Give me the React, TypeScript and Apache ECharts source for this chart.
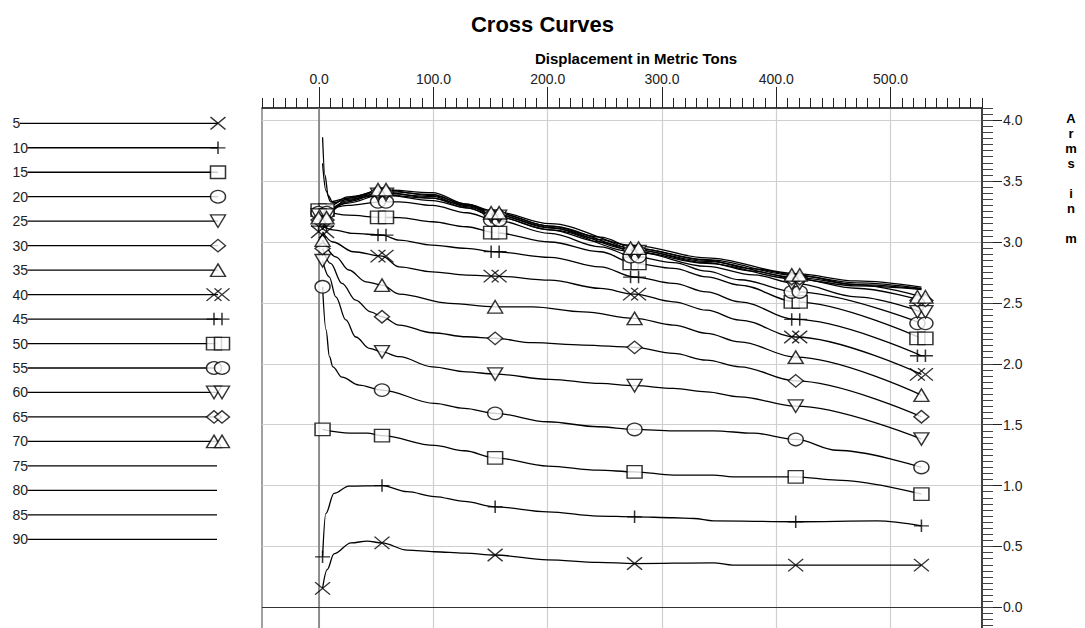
import React, { useEffect, useRef } from 'react';
import * as echarts from 'echarts';

const chartTitle = 'Cross Curves';
const displacementTitle = 'Displacement in Metric Tons';
const armsTitle = 'Arms in m';

const heelAngles = [5, 10, 15, 20, 25, 30, 35, 40, 45, 50, 55, 60, 65, 70, 75, 80, 85, 90];
const markerDisplacements = [3, 55, 154, 276, 417, 527];
const xTickValues = [0, 100, 200, 300, 400, 500];
const yTickValues = [0, 0.5, 1, 1.5, 2, 2.5, 3, 3.5, 4];

// KN values at the marked displacements
const kn5 = [0.156, 0.53, 0.43, 0.36, 0.347, 0.347];
const kn10 = [0.415, 1.0, 0.826, 0.744, 0.703, 0.67];
const kn15 = [1.461, 1.41, 1.228, 1.113, 1.072, 0.93];
const kn20 = [2.632, 1.784, 1.593, 1.461, 1.379, 1.149];
const kn25 = [2.846, 2.098, 1.915, 1.82, 1.652, 1.382];
const kn30 = [2.947, 2.386, 2.209, 2.135, 1.86, 1.565];
const kn35 = [3.016, 2.646, 2.468, 2.373, 2.055, 1.743];
const kn40 = [3.084, 2.884, 2.72, 2.572, 2.22, 1.913];
const kn45 = [3.13, 3.057, 2.92, 2.712, 2.364, 2.066];
const kn50 = [3.262, 3.202, 3.076, 2.824, 2.509, 2.209];
const kn55 = [3.24, 3.33, 3.18, 2.88, 2.59, 2.332];
const kn60 = [3.22, 3.39, 3.21, 2.92, 2.66, 2.427];
const kn65 = [3.18, 3.41, 3.225, 2.935, 2.7, 2.52];
const kn70 = [3.2, 3.43, 3.24, 2.95, 2.73, 2.55];

// additional points along each curve (displacement, KN)
const curve5 = [[7, 0.31], [13, 0.44], [28, 0.53], [42, 0.544], [77, 0.47], [101, 0.457], [127, 0.446], [200, 0.39], [244, 0.37], [345, 0.366], [362, 0.347]];
const curve10 = [[5.8, 0.77], [13, 0.936], [26, 0.996], [77, 0.95], [101, 0.91], [127, 0.87], [200, 0.785], [244, 0.75], [310, 0.736], [328, 0.73], [345, 0.711], [488, 0.71]];
const curve15 = [[27, 1.43], [42, 1.43], [101, 1.33], [127, 1.286], [200, 1.16], [244, 1.127], [310, 1.086], [345, 1.086], [362, 1.072], [453, 1.045]];
const curve20 = [[6, 2.28], [9, 2.06], [12, 1.975], [20, 1.89], [35, 1.825], [101, 1.675], [127, 1.634], [200, 1.524], [244, 1.483], [310, 1.45], [345, 1.45], [380, 1.43], [453, 1.29]];
const curve25 = [[8.8, 2.714], [14.6, 2.55], [23.4, 2.36], [32, 2.22], [44, 2.126], [70, 2.058], [99, 1.975], [129, 1.934], [202, 1.872], [246, 1.839], [310, 1.798], [339, 1.77], [368, 1.729]];
const curve30 = [[10, 2.824], [20, 2.66], [32, 2.523], [45, 2.427], [70, 2.318], [99, 2.255], [129, 2.222], [187, 2.173], [231, 2.154], [310, 2.085], [339, 2.03], [368, 1.975]];
const curve35 = [[14.6, 2.878], [26, 2.77], [41, 2.673], [70, 2.572], [114, 2.496], [187, 2.468], [231, 2.427], [310, 2.318], [339, 2.25], [368, 2.18]];
const curve40 = [[12, 3.0], [30, 2.92], [70, 2.796], [99, 2.755], [129, 2.728], [202, 2.687], [246, 2.619], [310, 2.509], [339, 2.44], [368, 2.359]];
const curve45 = [[12, 3.1], [30, 3.07], [70, 3.016], [99, 2.975], [129, 2.947], [202, 2.874], [246, 2.796], [310, 2.66], [339, 2.59], [368, 2.509]];
const curve50 = [[25, 3.22], [70, 3.2], [99, 3.166], [129, 3.125], [202, 3.0], [246, 2.92], [310, 2.783], [339, 2.714], [368, 2.646]];
const curve55 = [[25, 3.3], [70, 3.33], [99, 3.3], [129, 3.24], [202, 3.07], [246, 2.96], [310, 2.83], [339, 2.76], [368, 2.69]];
const curve60 = [[25, 3.32], [99, 3.34], [129, 3.28], [202, 3.1], [246, 3.0], [339, 2.8], [380, 2.73], [470, 2.55]];
const curve65 = [[25, 3.33], [99, 3.36], [129, 3.3], [202, 3.12], [246, 3.02], [339, 2.83], [380, 2.76], [470, 2.62]];
const curve70 = [[25, 3.34], [99, 3.38], [129, 3.31], [202, 3.13], [246, 3.04], [339, 2.85], [380, 2.78], [470, 2.65]];
const curve75 = [[3, 3.1], [10, 3.25], [25, 3.36], [55, 3.43], [99, 3.405], [129, 3.31], [154, 3.25], [202, 3.15], [276, 2.97], [339, 2.87], [417, 2.74], [470, 2.68], [527, 2.63]];
const curve80 = [[3, 3.28], [10, 3.3], [25, 3.37], [55, 3.415], [99, 3.39], [129, 3.3], [154, 3.24], [202, 3.13], [276, 2.95], [339, 2.855], [417, 2.725], [470, 2.665], [527, 2.62]];
const curve85 = [[3, 3.645], [6, 3.42], [10, 3.33], [25, 3.36], [55, 3.4], [99, 3.375], [129, 3.29], [154, 3.225], [202, 3.115], [276, 2.935], [339, 2.84], [417, 2.71], [470, 2.65], [527, 2.615]];
const curve90 = [[3, 3.86], [5, 3.55], [8, 3.38], [12, 3.32], [25, 3.35], [55, 3.385], [99, 3.36], [129, 3.28], [154, 3.21], [202, 3.1], [276, 2.92], [339, 2.825], [417, 2.695], [470, 2.64], [527, 2.61]];

const markerSets: (number[] | null)[] = [kn5, kn10, kn15, kn20, kn25, kn30, kn35, kn40, kn45, kn50, kn55, kn60, kn65, kn70, null, null, null, null];
const curveSets: number[][][] = [curve5, curve10, curve15, curve20, curve25, curve30, curve35, curve40, curve45, curve50, curve55, curve60, curve65, curve70, curve75, curve80, curve85, curve90];

const FONT = '"Liberation Sans", Arial, Helvetica, sans-serif';
const CROSS = 'path://M0,0L10,10M10,0L0,10';
const PLUS = 'path://M5,0L5,10M0,5L10,5';
const SYM_SIZE = [15, 12.5];

function symbolFor(i: number) {
  const k = i % 7;
  switch (k) {
    case 0: return { symbol: CROSS, rotate: 0 };
    case 1: return { symbol: PLUS, rotate: 0 };
    case 2: return { symbol: 'rect', rotate: 0 };
    case 3: return { symbol: 'circle', rotate: 0 };
    case 4: return { symbol: 'triangle', rotate: 180 };
    case 5: return { symbol: 'diamond', rotate: 0 };
    default: return { symbol: 'triangle', rotate: 0 };
  }
}

function buildOption() {
  const series: any[] = [];
  const markerStyle = { color: '#fff', borderColor: '#000', borderWidth: 1.4 };

  // legend geometry (pixels in a full-size helper grid)
  const legendTop = 123.3;
  const legendStep = 24.47;
  const legendLabelX = 12.5;
  const digitW = 7.5;
  const legendMarkX = 218;

  const graphics: any[] = [];

  heelAngles.forEach((angle, i) => {
    const markers = markerSets[i];
    const pts: number[][] = curveSets[i].map((p) => [p[0], p[1]]);
    if (markers) markerDisplacements.forEach((d, j) => pts.push([d, markers[j]]));
    pts.sort((a, b) => a[0] - b[0]);

    const lineSeries: any = {
      type: 'line',
      name: String(angle),
      xAxisIndex: 0,
      yAxisIndex: 0,
      data: pts,
      symbol: 'none',
      showSymbol: false,
      smooth: 0.35,
      smoothMonotone: 'x',
      lineStyle: { color: '#000', width: 1.3 },
      z: 3,
      silent: true,
    };
    if (i === 0) {
      lineSeries.markLine = {
        silent: true,
        symbol: 'none',
        label: { show: false },
        z: 1,
        data: [
          { xAxis: 0, lineStyle: { color: '#7a7a7a', width: 1.6, type: 'solid' } },
          { yAxis: 0, lineStyle: { color: '#333', width: 1.2, type: 'solid' } },
        ],
      };
    }
    series.push(lineSeries);

    const rowY = legendTop + i * legendStep;
    const label = String(angle);
    const lineStart = legendLabelX + label.length * digitW;
    series.push({
      type: 'line',
      xAxisIndex: 2,
      yAxisIndex: 2,
      data: [[lineStart, rowY], [markers ? legendMarkX : legendMarkX - 1, rowY]],
      symbol: 'none',
      lineStyle: { color: '#000', width: 1.3 },
      silent: true,
      z: 3,
    });
    graphics.push({
      type: 'text',
      x: legendLabelX,
      y: rowY,
      style: { text: label, font: `14px ${FONT}`, fill: '#222', textVerticalAlign: 'middle', verticalAlign: 'middle' },
    });

    if (markers) {
      const sym = symbolFor(i);
      const doubled = i >= 7;
      const offsets = doubled ? [[-4, 0], [4, 0]] : [[0, 0]];
      offsets.forEach((off) => {
        series.push({
          type: 'scatter',
          xAxisIndex: 0,
          yAxisIndex: 0,
          data: markerDisplacements.map((d, j) => [d, markers[j]]),
          symbol: sym.symbol,
          symbolRotate: sym.rotate,
          symbolSize: SYM_SIZE,
          symbolOffset: off,
          itemStyle: markerStyle,
          silent: true,
          z: 4,
        });
        series.push({
          type: 'scatter',
          xAxisIndex: 2,
          yAxisIndex: 2,
          data: [[legendMarkX, rowY]],
          symbol: sym.symbol,
          symbolRotate: sym.rotate,
          symbolSize: SYM_SIZE,
          symbolOffset: off,
          itemStyle: markerStyle,
          silent: true,
          z: 4,
        });
      });
    }
  });

  graphics.push({
    type: 'text',
    x: 636,
    y: 58,
    style: { text: displacementTitle, font: `bold 15px ${FONT}`, fill: '#000', textAlign: 'center', textVerticalAlign: 'middle', align: 'center', verticalAlign: 'middle' },
  });
  // vertical, letter-per-line axis name ("Arms in m")
  armsTitle.split('').forEach((c, k) => {
    if (c === ' ') return;
    graphics.push({
      type: 'text',
      x: 1071,
      y: 118 + k * 15,
      style: {
        text: c,
        font: `bold 13px ${FONT}`,
        fill: '#000',
        textAlign: 'center',
        align: 'center',
        textVerticalAlign: 'middle',
        verticalAlign: 'middle',
      },
    });
  });

  const gridLine = { show: true, lineStyle: { color: '#cfcfcf', width: 1.2 } };

  return {
    animation: false,
    backgroundColor: '#fff',
    title: {
      text: chartTitle,
      left: 'center',
      top: 8,
      textStyle: { fontSize: 22, fontWeight: 'bold', fontFamily: FONT, color: '#000' },
    },
    grid: [
      { left: 262, top: 108, width: 720, height: 560.3, show: true, borderColor: '#444', borderWidth: 1, backgroundColor: 'transparent', outerBoundsMode: 'none', containLabel: false },
      { left: 0, top: 0, width: 1085, height: 628, show: false, outerBoundsMode: 'none', containLabel: false },
    ],
    xAxis: [
      {
        type: 'value', gridIndex: 0, position: 'top', min: -50, max: 580,
        axisLine: { show: true, onZero: false, lineStyle: { color: '#222', width: 1.5 } },
        axisTick: { show: true, customValues: xTickValues, length: 21, lineStyle: { color: '#222', width: 1 } },
        axisLabel: { show: true, customValues: xTickValues, formatter: (v: number) => v.toFixed(1), fontSize: 14, fontFamily: FONT, color: '#222', margin: 22 },
        splitLine: gridLine,
      },
      {
        type: 'value', gridIndex: 0, position: 'top', min: -50, max: 580, interval: 10,
        axisLine: { show: false, onZero: false },
        axisTick: { show: true, length: 10, lineStyle: { color: '#222', width: 1 } },
        axisLabel: { show: false },
        splitLine: { show: false },
      },
      { type: 'value', gridIndex: 1, min: 0, max: 1085, show: false, splitLine: { show: false } },
    ],
    yAxis: [
      {
        type: 'value', gridIndex: 0, position: 'right', min: -0.5, max: 4.1,
        axisLine: { show: true, onZero: false, lineStyle: { color: '#222', width: 1.5 } },
        axisTick: { show: true, customValues: yTickValues, length: 20, lineStyle: { color: '#222', width: 1 } },
        axisLabel: { show: true, customValues: yTickValues, formatter: (v: number) => v.toFixed(1), fontSize: 14, fontFamily: FONT, color: '#222', margin: 21 },
        splitLine: gridLine,
      },
      {
        type: 'value', gridIndex: 0, position: 'right', min: -0.5, max: 4.1, interval: 0.05,
        axisLine: { show: false, onZero: false },
        axisTick: { show: true, length: 11, lineStyle: { color: '#444', width: 1 } },
        axisLabel: { show: false },
        splitLine: { show: false },
      },
      { type: 'value', gridIndex: 1, min: 0, max: 628, inverse: true, show: false, splitLine: { show: false } },
    ],
    graphic: graphics,
    series,
  };
}

export default function App() {
  const ref = useRef<HTMLDivElement>(null);
  useEffect(() => {
    document.body.style.margin = '0';
    const chart = echarts.init(ref.current as HTMLDivElement, null, { renderer: 'svg' });
    chart.setOption(buildOption() as any);
    return () => chart.dispose();
  }, []);
  return (
    <div style={{ width: 1085, height: 628, overflow: 'hidden' }}>
      <div ref={ref} style={{ width: 1085, height: 700 }} />
    </div>
  );
}
